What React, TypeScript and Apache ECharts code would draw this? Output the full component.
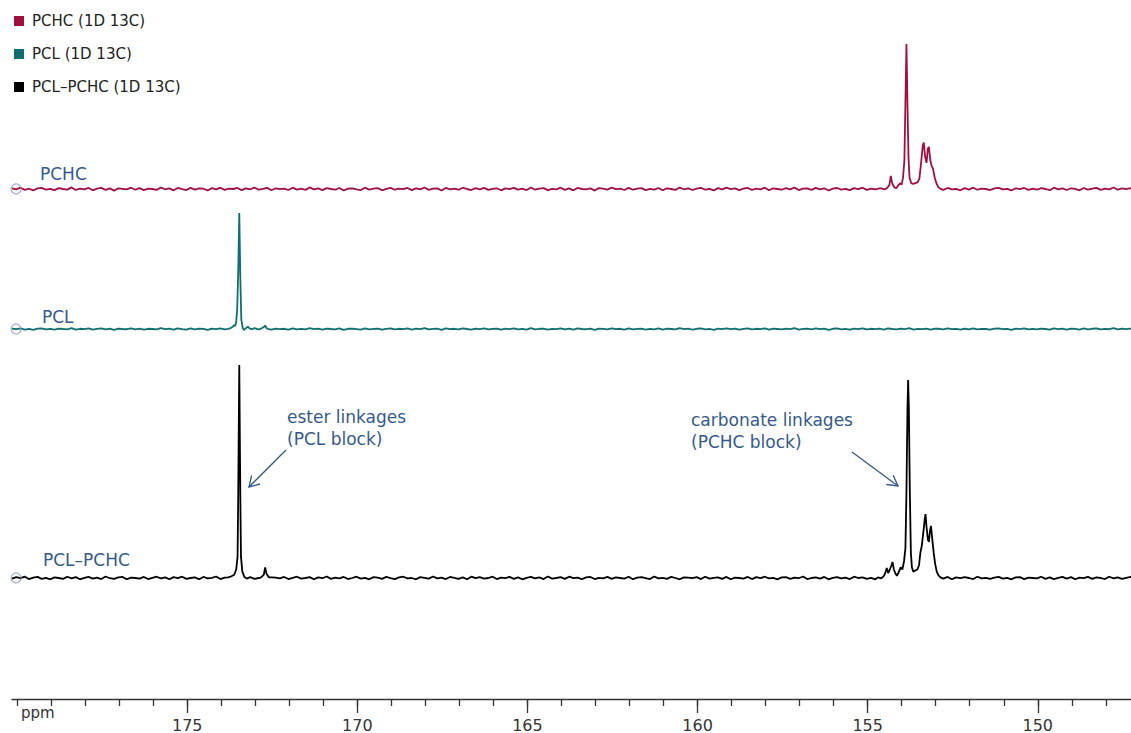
import React, { useEffect, useRef } from "react";
import * as echarts from "echarts";

// ---- data (ppm, normalised intensity) ----
const seriesNames = ["PCHC (1D 13C)", "PCL (1D 13C)", "PCL–PCHC (1D 13C)"];
const traceLabels = ["PCHC", "PCL", "PCL–PCHC"];
const majorTicks = [150, 155, 160, 165, 170, 175];
const minorTicks = [148, 149, 150, 151, 152, 153, 154, 155, 156, 157, 158, 159, 160, 161, 162, 163, 164, 165, 166, 167, 168, 169, 170, 171, 172, 173, 174, 175, 176, 177, 178, 179, 180];

// baseline noise sampled every 0.125 ppm from 180.15 ppm
const BASE_START = 180.15;
const BASE_STEP = 0.125;

const pchcNoise = [
  0.5, -0.3, 0.9, -0.6, 0.2, -1.0, 0.4, 0.8, -0.5, 0.1,
  -0.8, 0.6, 0.0, -0.4, 1.1, -0.7, 0.3, -0.2, 0.7, -0.9,
  0.2, 0.8, -0.6, 0.4, -1.1, 0.5, 0.1, -0.3, 0.9, -0.5,
  0.6, -0.8, 0.3, 0.0, -0.6, 1.0, -0.2, 0.4, -0.9, 0.7,
  -0.1, -0.7, 0.8, -0.4, 0.5, 0.2, -1.0, 0.6, -0.3, 0.9,
  -0.6, 0.3, 0.0, 0.7, -0.8, 0.4, -0.2, 1.0, -0.5, 0.1,
  0.8, -0.9, 0.5, -0.1, 0.3, -0.7, 0.9, -0.4, 0.2, -0.6,
  1.1, -0.3, 0.4, -0.8, 0.6, 0.0, -0.5, 0.7, -1.0, 0.3,
  0.5, -0.2, -0.7, 0.9, -0.4, 0.2, 0.6, -0.9, 0.1, 0.8,
  -0.5, 0.3, -0.1, 0.7, -0.8, 0.5, -0.3, 1.0, -0.6, 0.2,
  0.4, -1.0, 0.7, -0.2, 0.3, -0.5, 0.9, 0.0, -0.7, 0.6,
  -0.3, 0.8, -0.6, 0.1, 0.5, -0.9, 0.4, -0.1, 0.8, -0.4,
  0.2, -0.7, 1.0, -0.5, 0.3, 0.6, -0.8, 0.1, -0.2, 0.9,
  -0.6, 0.4, -0.9, 0.7, 0.0, -0.3, 0.5, -1.1, 0.6, 0.2,
  -0.4, 0.9, -0.1, 0.3, -0.7, 0.8, -0.5, 0.2, 0.6, -0.8,
  0.1, -0.4, 0.7, -0.9, 0.5, 0.0, -0.6, 1.0, -0.2, 0.4,
  -0.7, 0.3, 0.8, -0.5, 0.1, -1.0, 0.6, -0.3, 0.9, -0.1,
  0.4, -0.8, 0.2, 0.7, -0.6, 0.3, -0.2, 0.9, -0.9, 0.5,
  0.0, -0.5, 0.6, -0.3, 1.0, -0.7, 0.2, 0.4, -0.6, 0.8,
  -0.2, 0.5, -1.0, 0.3, 0.7, -0.4, 0.1, -0.8, 0.6, -0.1,
  0.9, -0.6, 0.3, -0.2, 0.5, -0.9, 0.8, 0.0, -0.5, 0.4,
  -0.3, 1.0, -0.7, 0.2, -0.1, 0.6, -0.8, 0.5, 0.3, -0.6,
  0.7, -0.2, 0.1, -0.9, 0.6, -0.4, 0.9, -0.5, 0.2, 0.0,
  -0.7, 0.4, 0.8, -0.3, 0.1, -1.0, 0.5, -0.1, 0.7, -0.6,
  0.3, -0.5, 0.6, 0.0, -0.8, 0.9, -0.2, 0.4, -0.7, 0.5,
  0.1, -0.9, 0.7, -0.4, 0.3, 0.8, -0.6, 0.2, -0.3, 1.0,
  -0.5, 0.4, -0.1, 0.6, -0.2,
];

const pclNoise = [
  0.3, -0.2, 0.6, -0.5, 0.1, -0.7, 0.3, 0.5, -0.3, 0.1,
  -0.5, 0.4, 0.0, -0.3, 0.7, -0.5, 0.2, -0.1, 0.5, -0.6,
  0.1, 0.6, -0.4, 0.3, -0.7, 0.3, 0.0, -0.2, 0.6, -0.4,
  0.4, -0.6, 0.2, 0.0, -0.4, 0.7, -0.1, 0.3, -0.6, 0.5,
  -0.1, -0.5, 0.5, -0.3, 0.4, 0.1, -0.7, 0.4, -0.2, 0.6,
  -0.4, 0.2, 0.0, 0.5, -0.6, 0.3, -0.1, 0.7, -0.3, 0.1,
  0.5, -0.6, 0.3, -0.1, 0.2, -0.5, 0.6, -0.3, 0.1, -0.4,
  0.7, -0.2, 0.3, -0.5, 0.4, 0.0, -0.3, 0.5, -0.7, 0.2,
  0.3, -0.1, -0.5, 0.6, -0.3, 0.1, 0.4, -0.6, 0.1, 0.5,
  -0.3, 0.2, -0.1, 0.5, -0.5, 0.3, -0.2, 0.7, -0.4, 0.1,
  0.3, -0.7, 0.5, -0.1, 0.2, -0.3, 0.6, 0.0, -0.5, 0.4,
  -0.2, 0.5, -0.4, 0.1, 0.3, -0.6, 0.3, -0.1, 0.5, -0.3,
  0.1, -0.5, 0.7, -0.3, 0.2, 0.4, -0.5, 0.1, -0.1, 0.6,
  -0.4, 0.3, -0.6, 0.5, 0.0, -0.2, 0.3, -0.7, 0.4, 0.1,
  -0.3, 0.6, -0.1, 0.2, -0.5, 0.5, -0.3, 0.1, 0.4, -0.5,
  0.1, -0.3, 0.5, -0.6, 0.3, 0.0, -0.4, 0.7, -0.1, 0.3,
  -0.5, 0.2, 0.5, -0.3, 0.1, -0.7, 0.4, -0.2, 0.6, -0.1,
  0.3, -0.5, 0.1, 0.5, -0.4, 0.2, -0.1, 0.6, -0.6, 0.3,
  0.0, -0.3, 0.4, -0.2, 0.7, -0.5, 0.1, 0.3, -0.4, 0.5,
  -0.1, 0.3, -0.7, 0.2, 0.5, -0.3, 0.1, -0.5, 0.4, -0.1,
  0.6, -0.4, 0.2, -0.1, 0.3, -0.6, 0.5, 0.0, -0.3, 0.3,
  -0.2, 0.7, -0.5, 0.1, -0.1, 0.4, -0.5, 0.3, 0.2, -0.4,
  0.5, -0.1, 0.1, -0.6, 0.4, -0.3, 0.6, -0.3, 0.1, 0.0,
  -0.5, 0.3, 0.5, -0.2, 0.1, -0.7, 0.3, -0.1, 0.5, -0.4,
  0.2, -0.3, 0.4, 0.0, -0.5, 0.6, -0.1, 0.3, -0.5, 0.3,
  0.1, -0.6, 0.5, -0.3, 0.2, 0.5, -0.4, 0.1, -0.2, 0.7,
  -0.3, 0.3, -0.1, 0.4, -0.1,
];

const copoNoise = [
  -0.3, 0.4, -0.1, 0.6, -0.5, 0.2, 0.5, -0.4, 0.1, -0.6,
  0.3, 0.0, -0.4, 0.6, -0.2, 0.4, -0.6, 0.1, 0.5, -0.3,
  0.2, -0.5, 0.7, -0.1, -0.4, 0.3, 0.5, -0.6, 0.2, 0.0,
  -0.3, 0.5, -0.5, 0.1, 0.6, -0.2, 0.3, -0.6, 0.4, -0.1,
  0.6, -0.4, 0.0, 0.3, -0.6, 0.5, -0.2, 0.1, 0.7, -0.5,
  0.2, -0.1, -0.5, 0.4, 0.1, -0.3, 0.6, -0.4, 0.0, 0.5,
  -0.6, 0.3, 0.2, -0.2, 0.5, -0.5, 0.1, 0.6, -0.3, 0.0,
  0.4, -0.6, 0.3, -0.1, 0.7, -0.4, 0.2, -0.2, 0.5, -0.5,
  0.0, 0.6, -0.3, 0.1, -0.6, 0.4, 0.2, -0.4, 0.5, -0.1,
  -0.5, 0.3, 0.6, -0.2, 0.0, -0.6, 0.4, 0.1, -0.3, 0.7,
  -0.2, 0.2, -0.5, 0.5, 0.1, -0.4, 0.3, -0.6, 0.6, -0.1,
  0.4, -0.3, 0.0, 0.6, -0.5, 0.2, -0.1, 0.5, -0.4, 0.3,
  -0.6, 0.1, 0.5, -0.2, 0.3, -0.5, 0.7, -0.3, 0.0, 0.4,
  -0.4, 0.6, -0.1, 0.2, -0.6, 0.3, 0.5, -0.5, 0.1, -0.2,
  0.5, -0.4, 0.3, 0.0, -0.3, 0.6, -0.6, 0.2, 0.4, -0.1,
  -0.5, 0.7, -0.2, 0.1, -0.4, 0.5, 0.0, -0.6, 0.3, 0.2,
  -0.1, 0.4, -0.5, 0.6, -0.3, 0.1, 0.3, -0.4, 0.5, -0.6,
  0.2, 0.0, -0.3, 0.5, -0.5, 0.4, -0.1, 0.6, -0.2, 0.1,
  -0.6, 0.3, 0.4, -0.4, 0.2, -0.1, 0.7, -0.5, 0.0, 0.3,
  -0.3, 0.5, -0.6, 0.1, 0.4, -0.2, 0.2, -0.5, 0.6, 0.0,
  0.3, -0.4, 0.1, -0.6, 0.5, -0.1, 0.4, -0.3, 0.2, -0.5,
  0.6, -0.2, 0.0, 0.3, -0.6, 0.5, -0.4, 0.1, 0.2, -0.3,
  0.5, -0.6, 0.3, -0.1, 0.4, 0.0, -0.5, 0.6, -0.2, 0.1,
  -0.4, 0.2, 0.5, -0.3, 0.1, -0.6, 0.3, 0.4, -0.5, 0.2,
  0.0, -0.2, 0.6, -0.4, 0.3, -0.5, 0.1, 0.5, -0.3, 0.4,
  -0.6, 0.2, -0.1, 0.5, -0.4, 0.3, 0.0, -0.5, 0.6, -0.2,
  0.3, -0.4, 0.1, 0.5, -0.3,
];

const pchcCarbonatePeak = [
  [154.6, 0.4], [154.5, -0.3], [154.42, 0.8], [154.36, 3], [154.32, 9], [154.28, 4],
  [154.22, 1.2], [154.16, 0.5], [154.1, 2.5], [154.05, 4], [154.0, 3], [153.96, 8],
  [153.92, 20], [153.89, 60], [153.86, 100], [153.83, 58], [153.8, 22], [153.77, 8],
  [153.72, 4], [153.66, 3.5], [153.6, 4], [153.54, 4.5], [153.48, 7], [153.43, 18],
  [153.38, 30], [153.35, 32], [153.31, 22], [153.27, 18], [153.23, 28], [153.2, 29],
  [153.16, 20], [153.12, 16], [153.08, 14], [153.03, 8], [152.98, 4], [152.93, 1.5],
  [152.87, 0.3], [152.8, -0.4],
];

const pclEsterPeak = [
  [173.8, 0.2], [173.72, 0.8], [173.66, 2], [173.62, 3.5], [173.59, 2.5], [173.56, 6],
  [173.53, 18], [173.5, 50], [173.47, 100], [173.44, 45], [173.41, 8], [173.37, 1],
  [173.33, -0.8], [173.28, 0.5], [173.22, 2], [173.16, 0.3], [173.1, -0.2],
];
const pclMinorPeak = [[172.84, 0.2], [172.76, 1.5], [172.71, 3], [172.66, 0.5], [172.6, -0.2]];

const copoEsterPeak = [
  [173.8, 0.3], [173.7, 0.8], [173.62, 1.5], [173.56, 4], [173.52, 10], [173.5, 40],
  [173.47, 100], [173.44, 40], [173.42, 10], [173.38, 3], [173.32, 0.5], [173.25, -0.3],
  [173.15, 0.4],
];
const copoMinorPeak = [[172.84, 0.2], [172.75, 1.5], [172.71, 5], [172.67, 2], [172.6, 0.3]];
const copoCarbonatePeak = [
  [154.7, 0.3], [154.6, -0.2], [154.52, 1], [154.47, 3], [154.44, 4.7], [154.4, 2.3],
  [154.36, 3.5], [154.3, 6], [154.27, 7.5], [154.23, 4], [154.18, 2], [154.14, 1],
  [154.08, 3], [154.03, 5], [153.98, 4], [153.93, 8], [153.89, 14], [153.86, 40],
  [153.83, 80], [153.81, 93], [153.79, 80], [153.76, 40], [153.73, 12], [153.7, 5],
  [153.66, 3], [153.6, 3.5], [153.54, 4], [153.49, 6], [153.45, 12], [153.41, 15],
  [153.36, 22], [153.32, 28], [153.3, 30], [153.27, 24], [153.23, 18], [153.2, 17],
  [153.17, 22], [153.14, 24.5], [153.1, 18], [153.06, 12], [153.02, 7], [152.97, 3],
  [152.92, 1.2], [152.85, 0.2],
];

function buildTrace(noise: number[], segments: number[][][]) {
  const pts: number[][] = [];
  noise.forEach((v, i) => {
    const ppm = +(BASE_START - i * BASE_STEP).toFixed(3);
    const inside = segments.some((s) => ppm <= s[0][0] && ppm >= s[s.length - 1][0]);
    if (!inside) pts.push([ppm, v]);
  });
  segments.forEach((s) => pts.push(...s));
  pts.sort((a, b) => b[0] - a[0]);
  return pts;
}

const FONT = "DejaVu Sans";
const BLUE = "#34598a";
const COLORS = ["#a0103e", "#0f6f6f", "#000000"];
const X_MIN = 147.26;
const X_MAX = 180.15;

export default function App() {
  const ref = useRef<HTMLDivElement>(null);
  useEffect(() => {
    if (!ref.current) return;
    const chart = echarts.init(ref.current, null, { renderer: "svg" });
    const traces = [
      buildTrace(pchcNoise, [pchcCarbonatePeak]),
      buildTrace(pclNoise, [pclEsterPeak, pclMinorPeak]),
      buildTrace(copoNoise, [copoEsterPeak, copoMinorPeak, copoCarbonatePeak]),
    ];
    const grids = [
      { left: 12, right: 0, top: 44, height: 152.25 },
      { left: 12, right: 0, top: 213, height: 121.8 },
      { left: 12, right: 0, top: 365, height: 223.65 },
    ];
    const hiddenX = (i: number) => ({
      gridIndex: i, type: "value", inverse: true, min: X_MIN, max: X_MAX, show: false,
    });
    const axisStyle = { color: "#333", width: 1.3 };
    const option: any = {
      animation: false,
      backgroundColor: "#ffffff",
      grid: grids,
      legend: {
        data: seriesNames,
        orient: "vertical",
        left: 14,
        top: 12,
        padding: 0,
        icon: "rect",
        itemWidth: 10,
        itemHeight: 10,
        itemGap: 15,
        selectedMode: false,
        textStyle: { fontFamily: FONT, fontSize: 15, lineHeight: 18, color: "#222", padding: [0, 0, 0, 3] },
      },
      xAxis: [
        hiddenX(0),
        hiddenX(1),
        {
          gridIndex: 2, type: "value", inverse: true, min: X_MIN, max: X_MAX,
          position: "bottom", offset: 110.35,
          axisLine: { show: true, onZero: false, lineStyle: axisStyle },
          axisTick: { show: true, customValues: minorTicks, length: 7, lineStyle: axisStyle },
          axisLabel: { show: false, customValues: minorTicks },
          splitLine: { show: false },
        },
        {
          gridIndex: 2, type: "value", inverse: true, min: X_MIN, max: X_MAX,
          position: "bottom", offset: 110.35,
          axisLine: { show: false, onZero: false },
          axisTick: { show: true, customValues: majorTicks, length: 14, lineStyle: axisStyle },
          axisLabel: {
            show: true, customValues: majorTicks, fontFamily: FONT, fontSize: 16,
            color: "#333", margin: 18,
          },
          splitLine: { show: false },
        },
      ],
      yAxis: [0, 1, 2].map((i) => ({ gridIndex: i, type: "value", min: -5, max: 100, show: false })),
      series: [
        ...traces.map((d, i) => ({
          name: seriesNames[i],
          type: "line",
          xAxisIndex: i,
          yAxisIndex: i,
          data: d,
          showSymbol: false,
          symbol: "none",
          color: COLORS[i],
          lineStyle: { color: COLORS[i], width: 1.8 },
          silent: true,
          z: 3,
        })),
        ...[0, 1, 2].map((i) => ({
          type: "scatter",
          xAxisIndex: i,
          yAxisIndex: i,
          data: [[180.03, 0]],
          symbol: "circle",
          symbolSize: 10,
          itemStyle: { color: "rgba(255,255,255,0)", borderColor: "#8d93c9", borderWidth: 1.2 },
          silent: true,
          z: 5,
        })),
      ],
      graphic: [
        { type: "text", left: 40, top: 165, style: { text: traceLabels[0], font: `17px ${FONT}`, fill: BLUE } },
        { type: "text", left: 42, top: 308, style: { text: traceLabels[1], font: `17px ${FONT}`, fill: BLUE } },
        { type: "text", left: 43, top: 551, style: { text: traceLabels[2], font: `17px ${FONT}`, fill: BLUE } },
        { type: "text", left: 21, top: 705, style: { text: "ppm", font: `15px ${FONT}`, fill: "#333" } },
        { type: "text", left: 287, top: 408, style: { text: "ester linkages", font: `17px ${FONT}`, fill: BLUE } },
        { type: "text", left: 287, top: 430, style: { text: "(PCL block)", font: `17px ${FONT}`, fill: BLUE } },
        { type: "text", left: 691, top: 411, style: { text: "carbonate linkages", font: `17px ${FONT}`, fill: BLUE } },
        { type: "text", left: 691, top: 433, style: { text: "(PCHC block)", font: `17px ${FONT}`, fill: BLUE } },
        { type: "line", shape: { x1: 286, y1: 450, x2: 249, y2: 487 }, style: { stroke: BLUE, lineWidth: 1.3 } },
        { type: "polyline", shape: { points: [[260, 484], [249, 487], [251.6, 475.5]] }, style: { stroke: BLUE, lineWidth: 1.3, fill: null } },
        { type: "line", shape: { x1: 852, y1: 452, x2: 898, y2: 486 }, style: { stroke: BLUE, lineWidth: 1.3 } },
        { type: "polyline", shape: { points: [[886.3, 484.5], [898, 486], [893.2, 475.2]] }, style: { stroke: BLUE, lineWidth: 1.3, fill: null } },
      ],
    };
    chart.setOption(option);
    return () => chart.dispose();
  }, []);
  return (
    <div
      ref={ref}
      style={{ position: "fixed", left: 0, top: 0, width: 1131, height: 733, background: "#fff" }}
    />
  );
}
